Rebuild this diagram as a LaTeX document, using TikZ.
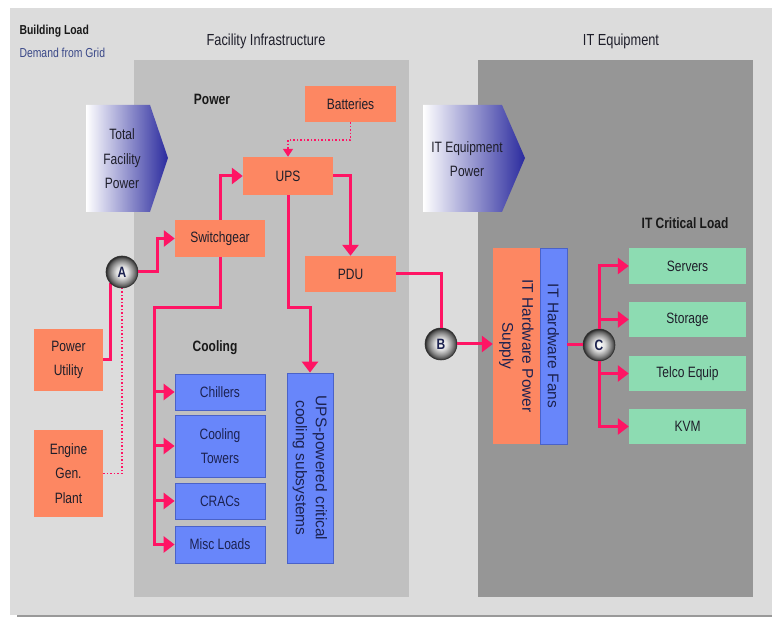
\documentclass[tikz,border=0pt]{standalone}
\usepackage{fontspec}
\setmainfont{Liberation Sans}[FakeStretch=0.8]
\newfontfamily\plainsans{Liberation Sans}
\usetikzlibrary{arrows.meta}

\definecolor{bglight}{HTML}{DCDCDC}
\definecolor{bgmid}{HTML}{C0C0C0}
\definecolor{bgdark}{HTML}{969696}
\definecolor{salmon}{HTML}{FD8762}
\definecolor{coolblue}{HTML}{6886FA}
\definecolor{cooledge}{HTML}{4A62C8}
\definecolor{loadgreen}{HTML}{8DDCB2}
\definecolor{wirepink}{HTML}{FF1464}
\definecolor{labelink}{HTML}{1E1E2A}
\definecolor{navyink}{HTML}{1C2250}
\definecolor{gridblue}{HTML}{3A4888}
\definecolor{arrowblue}{HTML}{2B2B9E}

\pgfdeclareradialshading{ballshade}{\pgfpoint{0bp}{0bp}}{%
  color(0bp)=(white); color(9bp)=(white!75!gray);
  color(17bp)=(gray!85); color(22bp)=(black!65); color(25bp)=(black!85);
  color(50bp)=(black!85)}

\tikzset{
  box/.style={rectangle, inner sep=0pt, text=labelink, align=center,
    font=\fontsize{15}{24.5}\selectfont},
  powerbox/.style={box, fill=salmon},
  coolbox/.style={box, fill=coolblue, draw=cooledge, line width=0.8pt, text=navyink},
  loadbox/.style={box, fill=loadgreen},
  junction/.style={circle, minimum size=32pt, inner sep=0pt, shading=ballshade,
    draw=black!80, line width=0.6pt, text=navyink,
    font=\fontsize{15}{18}\selectfont\bfseries},
  flow/.style={draw=wirepink, line width=3pt, -{Triangle[width=16pt,length=11pt]}},
  wire/.style={draw=wirepink, line width=3pt},
  backup/.style={draw=wirepink, line width=1.5pt, dotted},
  title/.style={text=labelink, font=\fontsize{16}{19}\selectfont},
  heading/.style={text=black!90, font=\fontsize{15}{18}\selectfont\bfseries},
  vertlabel/.style={rotate=-90, align=center, text=navyink,
    font=\plainsans\fontsize{15.5}{20}\selectfont},
}

\begin{document}
\begin{tikzpicture}[x=1pt, y=-1pt]
\useasboundingbox (0,0) rectangle (772,617);

% background panels
\fill[white] (0,0) rectangle (772,617);
\fill[bglight] (10,8) rectangle (772,615);
\fill[black!40] (17,615) rectangle (772,617);
\fill[bgmid] (134,60) rectangle (409,597);
\fill[bgdark] (478,60) rectangle (753,597);

% titles
\node[anchor=west, text=black!90, font=\fontsize{13}{15}\selectfont\bfseries] (bl) at (16,31) {Building Load};
\node[anchor=west, text=gridblue, font=\fontsize{13}{15}\selectfont] (dg) at (16,53) {Demand from Grid};
\node[title] (fi) at (266,41) {Facility Infrastructure};
\node[title] (ite) at (621,41) {IT Equipment};
\node[heading] (pw) at (212,99) {Power};
\node[heading] (cl) at (215,348) {Cooling};
\node[heading] (icl) at (685,223) {IT Critical Load};

% pentagon arrows
\shade[left color=white, right color=arrowblue]
  (86,105) -- (150,105) -- (168,158) -- (150,212) -- (86,212) -- cycle;
\node[box] (tfp) at (122,159) {Total\\Facility\\Power};
\shade[left color=white, right color=arrowblue]
  (423,105) -- (502,105) -- (525,158) -- (502,212) -- (423,212) -- cycle;
\node[box] (itp) at (467,159) {IT Equipment\\Power};

% power chain
\node[powerbox, minimum width=91pt, minimum height=36pt] (bat) at (350.5,104) {Batteries};
\node[powerbox, minimum width=90pt, minimum height=38pt] (ups) at (288,176) {UPS};
\node[powerbox, minimum width=90pt, minimum height=37pt] (sw) at (220,238.5) {Switchgear};
\node[powerbox, minimum width=91pt, minimum height=36pt] (pdu) at (350.5,274) {PDU};
\node[powerbox, minimum width=69pt, minimum height=62pt] (pu) at (68.5,360) {Power\\Utility};
\node[powerbox, minimum width=69pt, minimum height=87pt] (eg) at (68.5,473.5) {Engine\\Gen.\\Plant};

% cooling loads
\node[coolbox, minimum width=90pt, minimum height=36pt] (chill) at (220,392) {Chillers};
\node[coolbox, minimum width=90pt, minimum height=62pt] (tow) at (220,446) {Cooling\\Towers};
\node[coolbox, minimum width=90pt, minimum height=36pt] (crac) at (220,501) {CRACs};
\node[coolbox, minimum width=90pt, minimum height=37pt] (misc) at (220,544.5) {Misc Loads};
\node[coolbox, minimum width=46pt, minimum height=190pt] (upsc) at (310,468) {};
\node[vertlabel] (upsct) at (upsc.center) {UPS-powered critical\\cooling subsystems};

% IT equipment
\node[powerbox, minimum width=47pt, minimum height=196pt] (psu) at (516.5,346) {};
\node[vertlabel] (psut) at (psu.center) {IT Hardware Power\\Supply};
\node[coolbox, minimum width=27pt, minimum height=196pt] (fans) at (553.5,346) {};
\node[vertlabel] (fanst) at (fans.center) {IT Hardware Fans};
\node[loadbox, minimum width=117pt, minimum height=36pt] (srv) at (687.5,266) {Servers};
\node[loadbox, minimum width=117pt, minimum height=35pt] (sto) at (687.5,319.5) {Storage};
\node[loadbox, minimum width=117pt, minimum height=35pt] (tel) at (687.5,373.5) {Telco Equip};
\node[loadbox, minimum width=117pt, minimum height=35pt] (kvm) at (687.5,426.5) {KVM};

% bend points
\coordinate (bd) at (288,140);
\coordinate (cbus) at (154,308);

% connectors
\draw[backup, -{Triangle[width=10pt,length=8pt]}] (bat.south) |- (bd) -- (ups.north);
\draw[backup] (eg.east) -| (122,288);
\draw[wire] (pu.east) -| (110.7,283.3);
\node[junction] (A) at (122,272) {A};
\draw[flow] (A.east) -- ++(19,0) |- (sw.west);
\draw[flow] (sw.north) |- (ups.west);
\draw[flow] (ups.east) -| (pdu.north);
\draw[flow] (ups.south) -- ++(0,112) -| (upsc.north);
\draw[flow] (sw.south) |- (cbus) |- (misc.west);
\draw[flow] (cbus |- chill.west) -- (chill.west);
\draw[flow] (cbus |- tow.west) -- (tow.west);
\draw[flow] (cbus |- crac.west) -- (crac.west);

\node[junction] (B) at (441,344) {B};
\draw[wire] (pdu.east) -| (B.north);
\draw[flow] (B.east) -- (B.east -| psu.west);

\node[junction] (C) at (599,345) {C};
\draw[wire] (C.west -| fans.east) -- (C.west);
\draw[flow] (C.north) |- (srv.west);
\draw[flow] (C.north) |- (sto.west);
\draw[flow] (C.south) |- (tel.west);
\draw[flow] (C.south) |- (kvm.west);
\end{tikzpicture}
\end{document}
